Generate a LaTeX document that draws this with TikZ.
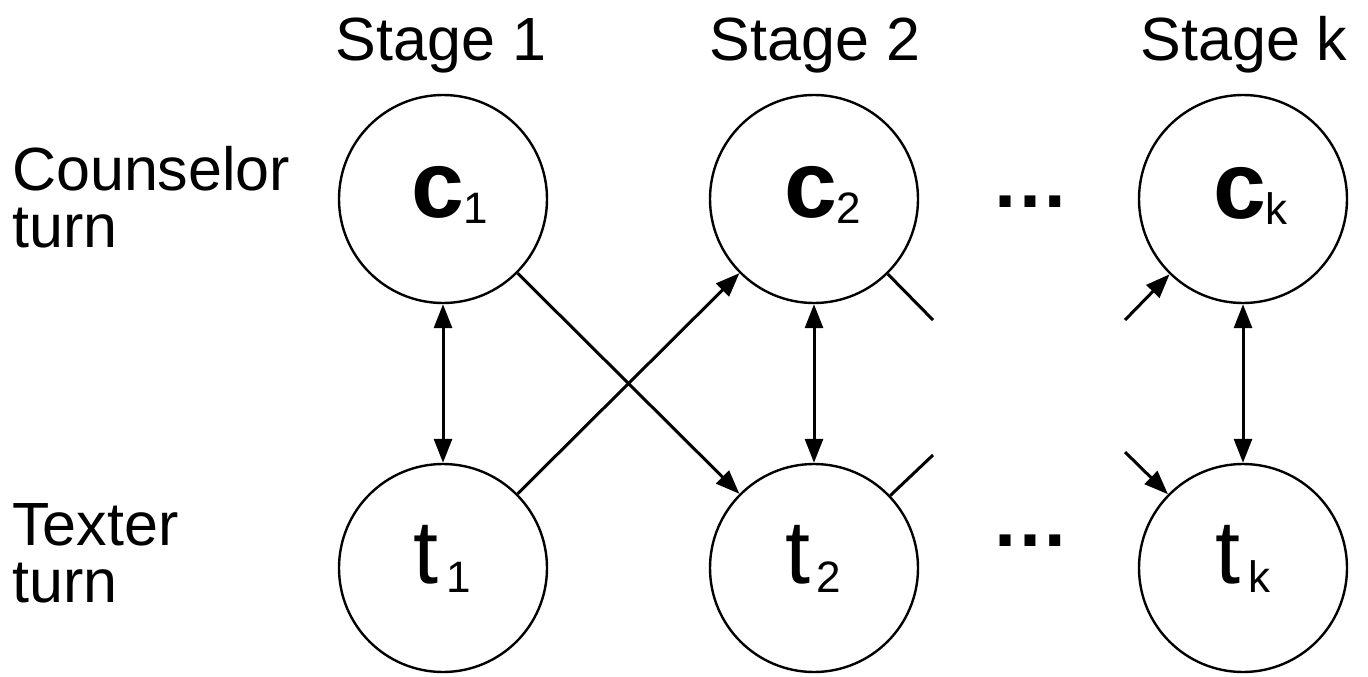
\documentclass[tikz,border=0pt]{standalone}
\usepackage{fontspec}
\setmainfont{Liberation Sans}
\usetikzlibrary{arrows.meta}
\newcommand{\cfnt}{\fontsize{95}{95}\selectfont\bfseries}
\newcommand{\tfnt}{\fontsize{90}{90}\selectfont}
\newcommand{\sfnt}{\fontsize{44}{44}\selectfont}
\begin{document}
\begin{tikzpicture}[x=1pt,y=-1pt,
  state/.style={circle,draw,line width=2.4pt,minimum size=208pt,inner sep=0pt},
  conn/.style={line width=3pt},
  onetip/.style={conn,-{Triangle[length=24pt,width=18pt]}},
  twotip/.style={conn,{Triangle[length=24pt,width=18pt]}-{Triangle[length=24pt,width=18pt]}},
  lab/.style={inner sep=0pt,anchor=base west},
  head/.style={inner sep=0pt,anchor=base,font=\fontsize{61}{57}\selectfont},
  side/.style={inner sep=0pt,anchor=base west,font=\fontsize{61}{57}\selectfont},
  dots/.style={inner sep=0pt,anchor=base,font=\fontsize{78}{78}\selectfont\bfseries}
]
\useasboundingbox (0,0) rectangle (1368,677);

% circles
\node[state] (c1) at (443,199) {};
\node[state] (c2) at (814,199) {};
\node[state] (ck) at (1243,199) {};
\node[state] (t1) at (443,568) {};
\node[state] (t2) at (814,568) {};
\node[state] (tk) at (1243,568) {};

% circle labels
\node[lab] (lc1) at (411,217) {{\cfnt c}\kern-1pt\raisebox{-6pt}{\sfnt 1}};
\node[lab] (lc2) at (784,217) {{\cfnt c}\kern-1pt\raisebox{-6pt}{\sfnt 2}};
\node[lab] (lck) at (1213,218) {{\cfnt c}\kern-1pt\raisebox{-6pt}{\sfnt k}};
\node[lab] (lt1) at (413,583) {{\tfnt t}\kern8pt\raisebox{-9pt}{\sfnt 1}};
\node[lab] (lt2) at (785,583) {{\tfnt t}\kern6pt\raisebox{-9pt}{\sfnt 2}};
\node[lab] (ltk) at (1215,583) {{\tfnt t}\kern8pt\raisebox{-9pt}{\sfnt k}};

% headings
\node[head] (s1) at (441,60) {Stage 1};
\node[head] (s2) at (815,60) {Stage 2};
\node[head] (sk) at (1244,60) {Stage k};

% side labels
\node[side] (cturn) at (12,190) {\begin{tabular}[t]{@{}l@{}}Counselor\\turn\end{tabular}};
\node[side] (tturn) at (12,545) {\begin{tabular}[t]{@{}l@{}}Texter\\turn\end{tabular}};

% ellipses
\node[dots] (d1) at (1030,207) {…};
\node[dots] (d2) at (1030,546) {…};

% stub coordinates
\coordinate (sc2) at (933,320);
\coordinate (st2) at (933,455);
\coordinate (eck) at (1125,320);
\coordinate (etk) at (1125,452);

% connectors
\draw[twotip] (c1) -- (t1);
\draw[twotip] (c2) -- (t2);
\draw[twotip] (ck) -- (tk);
\draw[onetip] (c1) -- (t2);
\draw[onetip] (t1) -- (c2);
\draw[conn] (c2) -- (sc2);
\draw[conn] (t2) -- (st2);
\draw[onetip] (eck) -- (ck);
\draw[onetip] (etk) -- (tk);
\end{tikzpicture}
\end{document}
